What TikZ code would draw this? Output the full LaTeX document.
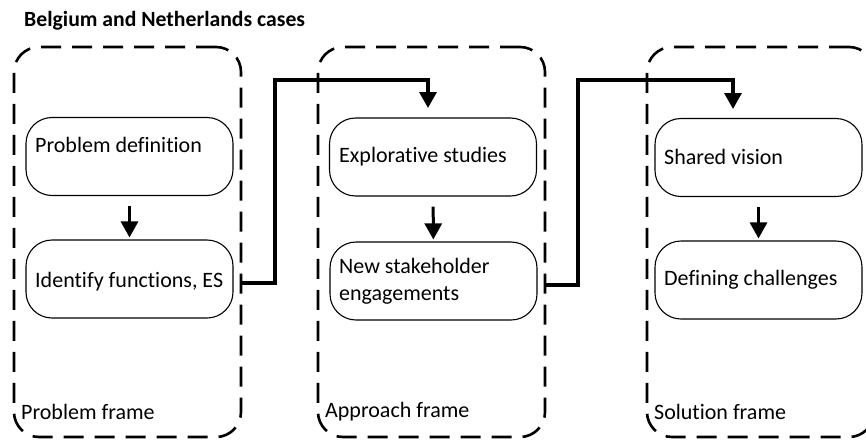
\documentclass[tikz,border=0pt]{standalone}
\usepackage{fontspec}
\setmainfont[Ligatures=NoCommon]{Carlito}
\usetikzlibrary{arrows.meta}
\begin{document}
\begin{tikzpicture}[x=1pt,y=-1pt,
  frame/.style={draw, line width=2.6pt, dash pattern=on 20pt off 11pt, rounded corners=25pt, minimum width=227pt, minimum height=390pt, inner sep=0pt},
  box/.style={draw, line width=1.1pt, rounded corners=26pt, minimum width=207pt, minimum height=78pt, inner sep=0pt},
  txt/.style={anchor=west, inner sep=0pt, font=\fontsize{22}{27}\selectfont, align=left},
  ttl/.style={anchor=west, inner sep=0pt, font=\fontsize{21.7}{25}\selectfont\bfseries},
  arr/.style={line width=3pt, -{Triangle[width=17pt,length=16pt]}},
  con/.style={line width=3.2pt, -{Triangle[width=17pt,length=16pt]}}]
\clip (0,0) rectangle (866,439);
\node[ttl] (title) at (24,21) {Belgium and Netherlands cases};
% frames
\node[frame] (f1) at (127.5,242) {};
\node[frame] (f2) at (431.5,242) {};
\node[frame] (f3) at (760.5,242) {};
\node[txt] (l1) at (21,412) {Problem frame};
\node[txt] (l2) at (325,412) {Approach frame};
\node[txt] (l3) at (654,412) {Solution frame};
% boxes
\node[box] (pd) at (129.5,156.5) {};
\node[box] (ifn) at (129.5,279) {};
\node[box] (es) at (433,157) {};
\node[box] (nse) at (433.5,281) {};
\node[box] (sv) at (758.5,157.5) {};
\node[box] (dc) at (758.5,280) {};
\node[txt] (tpd) at (35,145) {Problem definition};
\node[txt] (tifn) at (35,282) {Identify functions, ES};
\node[txt] (tes) at (339,157) {Explorative studies};
\node[txt] (tnse) at (339,281) {New stakeholder\\engagements};
\node[txt] (tsv) at (664,157) {Shared vision};
\node[txt] (tdc) at (664,280) {Defining challenges};
% vertical arrows
\draw[arr, shorten <=10pt, shorten >=2pt] (pd) -- (ifn);
\draw[arr, shorten <=10pt, shorten >=2pt] (es) -- (nse);
\draw[arr, shorten <=10pt, shorten >=2pt] (sv) -- (dc);
% connectors
\coordinate (a1) at (241,283);
\coordinate (a2) at (545,285);
\coordinate (t1) at (428,117);
\coordinate (t2) at (733,118);
\draw[con, shorten >=9pt] (a1) -- (275,283) |- (428,80) -- (t1);
\draw[con, shorten >=9pt] (a2) -- (578,285) |- (733,80) -- (t2);
\end{tikzpicture}
\end{document}
